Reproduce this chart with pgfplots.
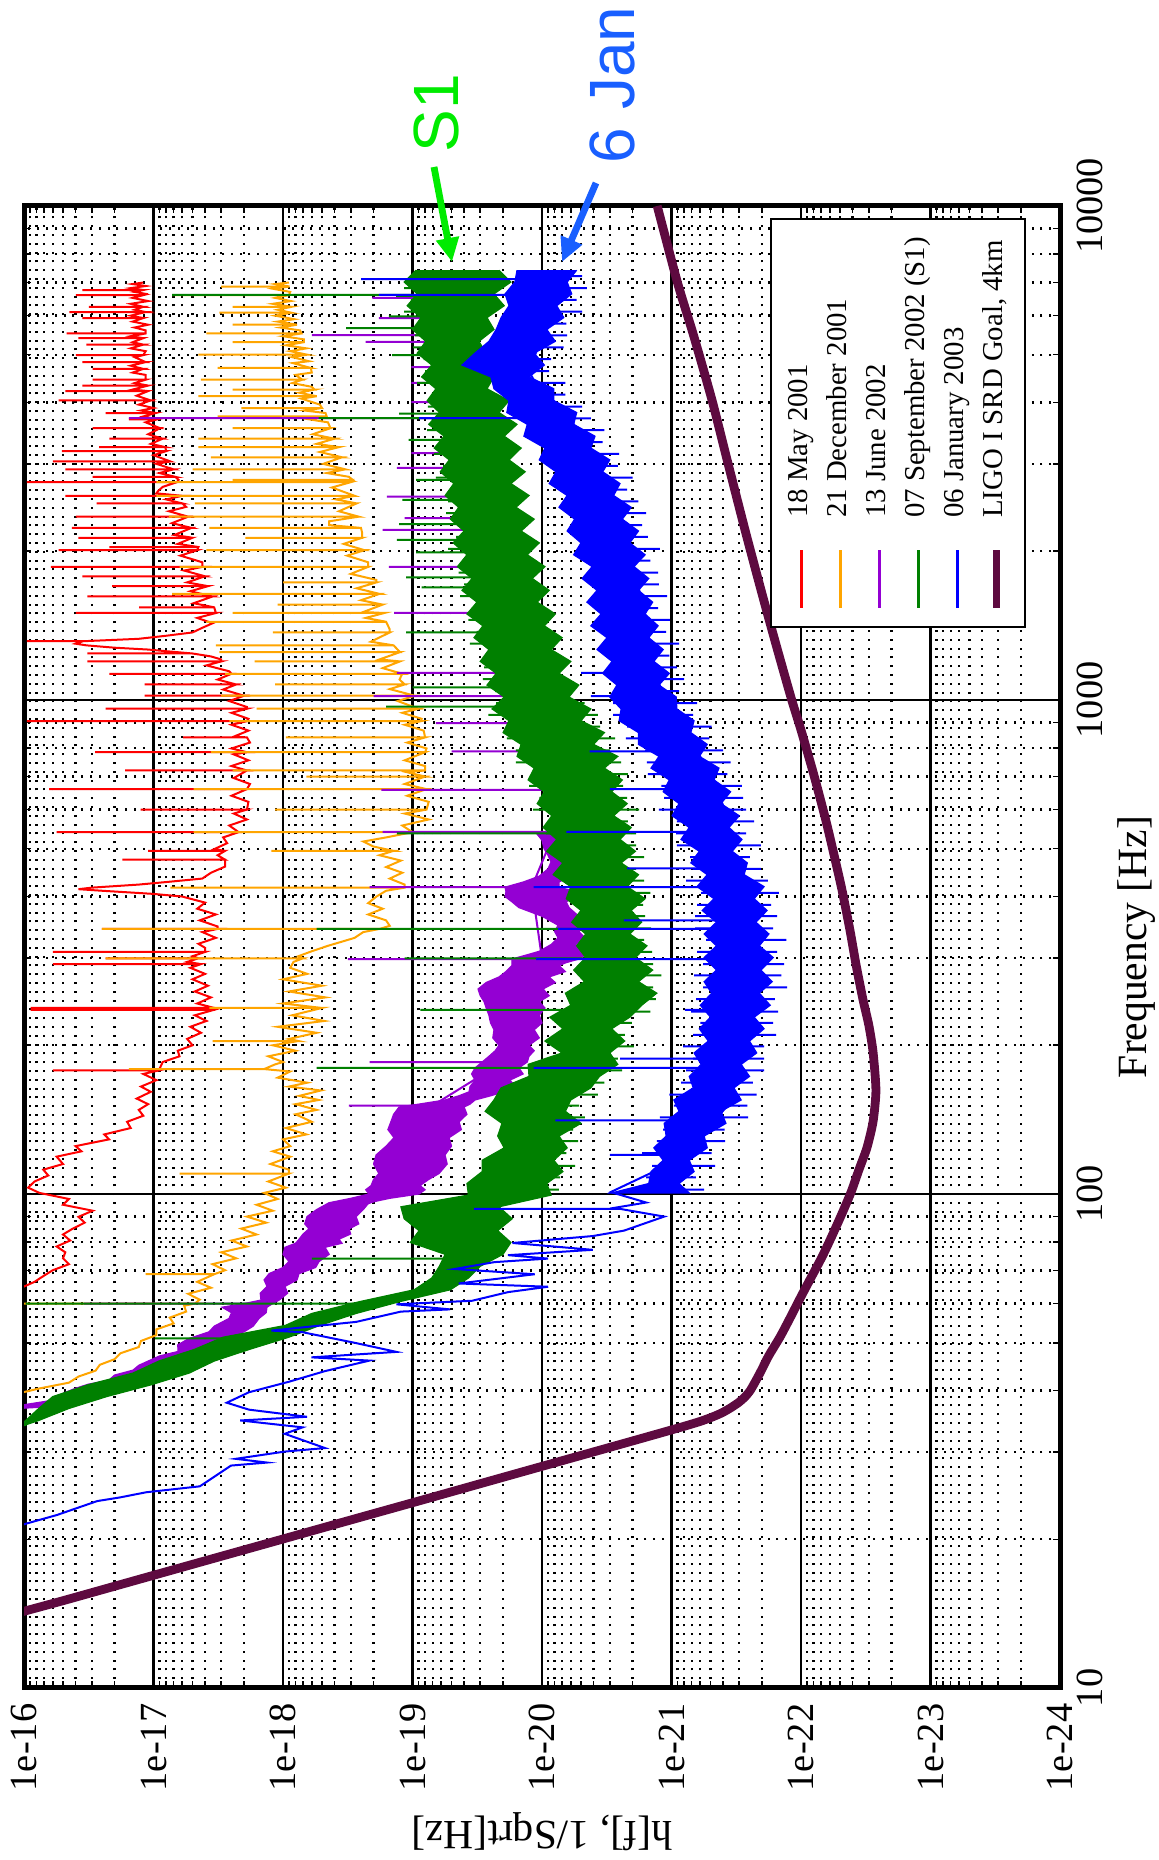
\documentclass[border=0pt]{standalone}
\usepackage{pgfplots}
\pgfplotsset{compat=1.18}
\usepackage{fontspec}
\setmainfont{Liberation Serif}
\newfontfamily\annfont{Liberation Sans}
\usetikzlibrary{arrows.meta}

\definecolor{cRed}{RGB}{255,0,0}
\definecolor{cOrange}{RGB}{255,165,0}
\definecolor{cPurple}{RGB}{148,0,211}
\definecolor{cGreen}{RGB}{0,128,0}
\definecolor{cBlue}{RGB}{0,0,255}
\definecolor{cSRD}{RGB}{94,10,64}
\definecolor{annGreen}{RGB}{0,235,0}
\definecolor{annBlue}{RGB}{25,95,255}

% legend samples: a short rule in the run's colour
\newcommand{\sample}[3][0.6pt]{\textcolor{#2}{\rule[#3]{14.5pt}{#1}}\hspace{8pt}}

\begin{document}
\begin{tikzpicture}
\begin{axis}[
  at={(0pt,0pt)}, anchor=south west,
  scale only axis, width=259pt, height=370.5pt,
  xmode=log, ymode=log, x dir=reverse,
  xmin=1e-24, xmax=1e-16, ymin=10, ymax=10000,
  xtick={1e-24,1e-23,1e-22,1e-21,1e-20,1e-19,1e-18,1e-17,1e-16},
  xticklabels={1e-24,1e-23,1e-22,1e-21,1e-20,1e-19,1e-18,1e-17,1e-16},
  minor xtick={2e-24,3e-24,4e-24,5e-24,6e-24,7e-24,8e-24,9e-24,
    2e-23,3e-23,4e-23,5e-23,6e-23,7e-23,8e-23,9e-23,
    2e-22,3e-22,4e-22,5e-22,6e-22,7e-22,8e-22,9e-22,
    2e-21,3e-21,4e-21,5e-21,6e-21,7e-21,8e-21,9e-21,
    2e-20,3e-20,4e-20,5e-20,6e-20,7e-20,8e-20,9e-20,
    2e-19,3e-19,4e-19,5e-19,6e-19,7e-19,8e-19,9e-19,
    2e-18,3e-18,4e-18,5e-18,6e-18,7e-18,8e-18,9e-18,
    2e-17,3e-17,4e-17,5e-17,6e-17,7e-17,8e-17,9e-17},
  ytick={10,100,1000,10000},
  yticklabels={10,100,1000,10000},
  minor ytick={20,30,40,50,60,70,80,90,200,300,400,500,600,700,800,900,
    2000,3000,4000,5000,6000,7000,8000,9000},
  yticklabel pos=right,
  grid=both,
  major grid style={black, line width=0.55pt},
  minor grid style={black, line width=0.55pt, dash pattern=on 0.5pt off 1.7pt},
  axis line style={black, line width=1.25pt},
  tick align=inside, major tick length=0pt, minor tick length=1.8pt,
  tick style={black, line width=0.4pt},
  xticklabel style={yshift=-3.75pt, rotate=90, anchor=east, inner sep=0pt,
    font=\fontsize{9.6}{11}\selectfont},
  yticklabel style={xshift=4pt, rotate=90, anchor=north, inner sep=0pt,
    font=\fontsize{9.6}{11}\selectfont},
  xlabel={h[f], 1/Sqrt[Hz]},
  ylabel={Frequency [Hz]},
  every axis x label/.style={at={(axis description cs:0.5,0)}, yshift=-36pt,
    anchor=center, rotate=180, font=\fontsize{10.4}{12}\selectfont},
  every axis y label/.style={at={(axis description cs:1,0.5)}, xshift=19.25pt,
    anchor=center, rotate=90, font=\fontsize{10.4}{12}\selectfont},
  legend columns=6,
  legend cell align=left,
  legend image code/.code={},
  legend style={at={(0.8436,0.8536)}, anchor=center,
    draw=black, line width=0.5pt, fill=white,
    font=\fontsize{7.2}{8.6}\selectfont,
    inner xsep=2.6pt, inner ysep=3.3pt,
    nodes={rotate=90, inner sep=1.2pt, text height=5.2pt, text depth=1.8pt},
    /tikz/every even column/.append style={column sep=0.35pt}},
]

% ---------------- 18 May 2001 ----------------
\addplot[cRed, line width=0.5pt] table[x=h, y=f] {
f h
7000 1.2e-17
6950 1.45e-17
6887 1.15e-17
6820 1.5e-17
6760 1.2e-17
6760 3.55e-17
6760 1.2e-17
6699 1.4e-17
6640 1.15e-17
6600 1.2e-17
6600 3.98e-17
6600 1.2e-17
6516 1.45e-17
6420 1.1e-17
6339 1.5e-17
6250 1.2e-17
6250 3.16e-17
6250 1.2e-17
6166 1.4e-17
6100 1.15e-17
6100 4.47e-17
6100 1.15e-17
5998 1.5e-17
5930 1.2e-17
5930 3.55e-17
5930 1.2e-17
5834 1.45e-17
5750 1.1e-17
5675 1.4e-17
5600 1.15e-17
5520 1.15e-17
5520 4.68e-17
5520 1.15e-17
5450 1.5e-17
5400 1.2e-17
5400 3.8e-17
5400 1.2e-17
5300 1.45e-17
5240 1.2e-17
5240 3.3e-17
5240 1.2e-17
5150 1.5e-17
5082 1.15e-17
4990 1.2e-17
4990 3.98e-17
4990 1.2e-17
4943 1.4e-17
4830 1.15e-17
4830 3.55e-17
4830 1.15e-17
4750 1.5e-17
4680 1.2e-17
4680 2.95e-17
4680 1.2e-17
4600 1.45e-17
4550 1.15e-17
4450 1.15e-17
4450 2.95e-17
4450 1.15e-17
4380 1.4e-17
4330 1.1e-17
4330 3.55e-17
4330 1.1e-17
4250 1.45e-17
4220 1.1e-17
4220 4.8e-17
4220 1.1e-17
4130 1.35e-17
4040 1.05e-17
4040 5.4e-17
4040 1.05e-17
3963 1.3e-17
3900 1.0e-17
3855 1.25e-17
3810 9.6e-18
3810 2.34e-17
3810 9.6e-18
3750 1.2e-17
3700 9.3e-18
3700 1.55e-17
3700 9.3e-18
3648 1.15e-17
3550 8.9e-18
3550 2.95e-17
3550 8.9e-18
3451 1.1e-17
3380 8.5e-18
3380 2.19e-17
3380 8.5e-18
3300 1.05e-17
3250 8.1e-18
3250 2.63e-17
3250 8.1e-18
3190 8.0e-18
3190 5.1e-17
3190 8.0e-18
3130 1.0e-17
3040 7.4e-18
3040 6.0e-17
3040 7.4e-18
3006 9.5e-18
2930 7.0e-18
2930 4.8e-17
2930 7.0e-18
2880 9.0e-18
2830 6.8e-18
2830 2.95e-17
2830 6.8e-18
2790 6.4e-18
2760 6.6e-18
2760 9.5e-17
2760 6.6e-18
2700 8.5e-18
2650 9.2e-18
2620 9.5e-18
2590 6.0e-18
2590 4.8e-17
2590 6.0e-18
2547 8.0e-18
2500 6.0e-18
2500 2.75e-17
2500 6.0e-18
2460 5.6e-18
2410 7.6e-18
2350 5.4e-18
2350 3.98e-17
2350 5.4e-18
2280 7.2e-18
2230 5.1e-18
2230 4.27e-17
2230 5.1e-18
2158 6.9e-18
2130 5.0e-18
2130 3.8e-17
2130 5.0e-18
2070 6.5e-18
2040 4.5e-18
2040 2.19e-17
2040 4.5e-18
2010 4.6e-18
2010 5.4e-17
2010 4.6e-18
1960 6.2e-18
1900 4.2e-18
1860 4.2e-18
1860 6.2e-17
1860 4.2e-18
1828 5.8e-18
1780 4.0e-18
1780 3.55e-17
1780 4.0e-18
1730 5.5e-18
1700 3.8e-18
1700 2.09e-17
1700 3.8e-18
1660 5.2e-18
1620 3.5e-18
1620 3.24e-17
1620 3.5e-18
1570 4.9e-18
1540 3.4e-18
1540 1.29e-17
1540 3.4e-18
1500 3.3e-18
1500 3.98e-17
1500 3.3e-18
1466 4.6e-18
1430 3.5e-18
1400 4.2e-18
1370 5.0e-18
1349 8.0e-18
1330 1.3e-17
1315 3.5e-17
1315 9.5e-17
1315 3.5e-17
1300 4.0e-17
1290 3.3e-17
1276 2.0e-17
1265 1.1e-17
1255 7.9e-18
1242 5.0e-18
1242 3.24e-17
1242 5.0e-18
1225 3.6e-18
1208 3.0e-18
1197 3.0e-18
1197 3.24e-17
1197 3.0e-18
1175 3.9e-18
1143 2.6e-18
1130 2.5e-18
1130 2.19e-17
1130 2.5e-18
1100 3.2e-18
1075 2.3e-18
1075 1.17e-17
1075 2.3e-18
1050 2.9e-18
1020 2.0e-18
1020 1.17e-17
1020 2.0e-18
995 2.6e-18
968 1.9e-18
960 1.9e-18
960 2.34e-17
960 1.9e-18
942 2.5e-18
916 1.85e-18
906 1.9e-18
906 9.5e-17
906 1.9e-18
891 2.5e-18
867 1.85e-18
843 2.4e-18
840 1.9e-18
840 5.9e-18
840 1.9e-18
820 1.8e-18
798 2.5e-18
784 1.9e-18
784 2.82e-17
784 1.9e-18
776 2.4e-18
755 1.85e-18
735 2.5e-18
720 1.9e-18
720 1.66e-17
720 1.9e-18
695 2.4e-18
676 1.8e-18
660 1.9e-18
660 6.4e-17
660 1.9e-18
640 2.5e-18
622 1.85e-18
600 1.9e-18
600 1.26e-17
600 1.9e-18
589 2.4e-18
573 1.9e-18
557 2.6e-18
540 2.2e-18
540 5.6e-17
540 2.2e-18
527 2.9e-18
513 2.7e-18
499 3.4e-18
495 2.8e-18
495 1.1e-17
495 2.8e-18
485 3.2e-18
475 2.8e-18
475 1.74e-17
475 2.8e-18
460 2.8e-18
447 3.6e-18
435 4.2e-18
428 8.0e-18
423 1.3e-17
417 3.0e-17
414 3.8e-17
411 2.5e-17
405 1.0e-17
400 6.0e-18
389 4.0e-18
378 4.6e-18
368 3.3e-18
358 4.4e-18
348 3.2e-18
344 3.2e-18
344 2.51e-17
344 3.2e-18
339 4.2e-18
330 3.3e-18
321 4.5e-18
315 4.0e-18
309 4.0e-18
309 6.0e-17
309 4.0e-18
303 5.0e-18
300 4.5e-18
300 2.34e-17
300 4.5e-18
295 5.5e-18
292 4.3e-18
292 6.0e-17
292 4.3e-18
287 5.2e-18
279 4.0e-18
272 5.0e-18
264 3.8e-18
257 4.8e-18
250 3.6e-18
243 4.6e-18
238 3.4e-18
238 8.9e-17
238 3.4e-18
236 3.4e-18
236 8.9e-17
236 3.4e-18
230 4.8e-18
224 3.9e-18
218 5.2e-18
212 4.3e-18
206 5.5e-18
200 5.0e-18
195 6.5e-18
190 6.3e-18
185 8.5e-18
179 9.0e-18
178 9.0e-18
178 6.0e-17
178 9.0e-18
175 1.2e-17
170 9.5e-18
165 1.25e-17
161 1.05e-17
156 1.35e-17
152 1.1e-17
148 1.3e-17
144 1.2e-17
140 1.6e-17
136 1.5e-17
132 2.4e-17
129 2.2e-17
125 4.0e-17
122 3.6e-17
119 5.6e-17
115 5.0e-17
112 7.1e-17
109 6.5e-17
106 8.3e-17
103 9.3e-17
100.5 7.6e-17
97.7 4.5e-17
95.1 5.0e-17
92.5 2.95e-17
89.9 3.8e-17
87.5 3.4e-17
85.1 4.2e-17
82.8 5.0e-17
80.5 4.4e-17
78.3 5.6e-17
76.2 4.8e-17
74.1 5.0e-17
72.1 4.5e-17
70.1 6.0e-17
68.2 7.1e-17
66.4 8.3e-17
64.6 1.05e-16
};
\addlegendentry{\sample{cRed}{1.2pt}18 May 2001}

% ---------------- 21 December 2001 ----------------
\addplot[cOrange, line width=0.5pt] table[x=h, y=f] {
f h
7000 9.0e-19
6950 1.15e-18
6870 8.9e-19
6870 3.0e-18
6870 8.9e-19
6800 1.2e-18
6699 8.8e-19
6600 9.0e-19
6600 7.2e-18
6600 9.0e-19
6516 1.15e-18
6420 8.7e-19
6339 1.2e-18
6250 8.6e-19
6250 2.45e-18
6250 8.6e-19
6166 1.1e-18
6080 8.6e-19
6080 3.1e-18
6080 8.6e-19
5998 1.15e-18
5900 8.2e-19
5834 1.1e-18
5750 7.8e-19
5750 2.45e-18
5750 7.8e-19
5675 1.05e-18
5600 7.4e-19
5520 7.2e-19
5520 3.9e-18
5520 7.2e-19
5450 1.0e-18
5370 6.9e-19
5300 6.9e-19
5300 2.45e-18
5300 6.9e-19
5224 9.5e-19
5150 6.6e-19
5082 8.8e-19
5000 6.5e-19
5000 4.5e-18
5000 6.5e-19
4943 8.5e-19
4850 6.3e-19
4808 8.4e-19
4700 6.1e-19
4700 3.2e-18
4700 6.1e-19
4600 6.0e-19
4550 8.0e-19
4450 7.1e-19
4450 4.3e-18
4450 7.1e-19
4380 8.5e-19
4305 6.0e-19
4250 5.7e-19
4250 2.45e-18
4250 5.7e-19
4188 7.5e-19
4120 5.5e-19
4120 4.5e-18
4120 5.5e-19
4074 7.2e-19
3963 5.2e-19
3900 5.0e-19
3900 2.1e-18
3900 5.0e-19
3855 6.8e-19
3810 4.7e-19
3750 4.6e-19
3750 3.2e-18
3750 4.6e-19
3700 6.3e-19
3648 4.5e-19
3550 4.3e-19
3550 2.45e-18
3550 4.3e-19
3451 5.9e-19
3380 4.0e-19
3380 4.5e-18
3380 4.0e-19
3300 5.5e-19
3250 3.7e-19
3250 4.5e-18
3250 3.7e-19
3177 5.2e-19
3100 3.5e-19
3100 3.6e-18
3100 3.5e-19
3006 4.9e-19
2930 3.3e-19
2930 5.0e-18
2930 3.3e-19
2880 4.6e-19
2830 3.1e-19
2790 2.9e-19
2790 2.45e-18
2790 2.9e-19
2760 3.0e-19
2760 9.5e-18
2760 3.0e-19
2692 4.2e-19
2590 2.8e-19
2590 9.5e-18
2590 2.8e-19
2547 3.9e-19
2500 2.7e-19
2500 4.8e-18
2500 2.7e-19
2410 3.7e-19
2350 2.6e-19
2350 7.6e-18
2350 2.6e-19
2300 4.4e-19
2260 4.4e-19
2230 2.5e-19
2230 3.7e-18
2230 2.5e-19
2180 2.45e-19
2130 2.45e-19
2130 1.95e-18
2130 2.45e-19
2070 3.4e-19
2010 2.35e-19
2010 3.9e-18
2010 2.35e-19
1960 3.2e-19
1900 2.2e-19
1860 2.2e-19
1860 6.3e-18
1860 2.2e-19
1800 3.0e-19
1750 1.9e-19
1730 1.9e-19
1730 1.0e-18
1730 1.9e-19
1683 2.7e-19
1640 1.8e-19
1640 7.2e-18
1640 1.8e-19
1592 2.5e-19
1560 1.7e-19
1560 1.1e-18
1560 1.7e-19
1507 2.4e-19
1500 1.65e-19
1500 2.45e-18
1500 1.65e-19
1466 2.3e-19
1440 1.6e-19
1440 3.9e-18
1440 1.6e-19
1390 1.5e-19
1370 1.5e-19
1370 1.2e-18
1370 1.5e-19
1312 2.1e-19
1290 1.4e-19
1290 3.3e-18
1290 1.4e-19
1250 1.25e-19
1250 3.1e-18
1250 1.25e-19
1208 1.8e-19
1197 1.25e-19
1197 1.66e-18
1197 1.25e-19
1160 1.7e-19
1130 1.2e-19
1130 2.8e-18
1130 1.2e-19
1100 1.26e-19
1075 1.15e-19
1075 1.15e-18
1075 1.15e-19
1052 1.5e-19
1020 9.6e-20
1020 3.0e-18
1020 9.6e-20
995 1.3e-19
960 9.0e-20
960 1.6e-18
960 9.0e-20
942 1.2e-19
916 8.5e-20
906 8.6e-20
906 2.6e-18
906 8.6e-20
891 1.15e-19
867 8.2e-20
840 8.0e-20
840 9.5e-19
840 8.0e-20
820 1.1e-19
798 7.8e-20
784 8.0e-20
784 3.6e-18
784 8.0e-20
755 1.15e-19
735 8.0e-20
720 8.0e-20
720 2.45e-18
720 8.0e-20
714 1.1e-19
700 8.0e-20
700 6.6e-19
700 8.0e-20
676 1.15e-19
660 7.8e-20
660 4.9e-18
660 7.8e-20
640 1.1e-19
622 7.5e-20
600 7.8e-20
600 1.15e-18
600 7.8e-20
589 1.15e-19
573 7.5e-20
557 1.2e-19
540 1.0e-19
540 4.9e-18
540 1.0e-19
527 1.6e-19
517 2.4e-19
505 2.0e-19
495 1.4e-19
495 1.23e-18
495 1.4e-19
485 1.8e-19
473 1.23e-19
459 1.6e-19
447 1.2e-19
435 1.5e-19
423 1.15e-19
417 1.15e-19
417 7.4e-18
417 1.15e-19
411 1.6e-19
400 1.9e-19
388 2.2e-19
378 1.7e-19
368 2.2e-19
358 1.6e-19
349 1.5e-19
344 1.8e-19
344 2.51e-17
344 1.8e-19
339 2.4e-19
330 2.8e-19
325 3.4e-19
318 4.5e-19
310 6.0e-19
303 7.6e-19
300 7.0e-19
300 2.34e-17
300 7.0e-19
295 8.3e-19
287 8.8e-19
279 6.5e-19
272 1.0e-18
264 5.0e-19
257 9.0e-19
250 4.7e-19
243 1.0e-18
238 5.0e-19
238 3.7e-18
238 5.0e-19
230 8.5e-19
224 4.8e-19
218 1.1e-18
212 5.5e-19
206 9.0e-19
204 7.6e-19
204 3.5e-18
204 7.6e-19
200 1.2e-18
195 8.0e-19
190 1.3e-18
185 1.0e-18
183 1.15e-18
179 1.4e-18
179 1.55e-17
179 1.4e-18
177 8.8e-19
172 1.1e-18
168 6.5e-19
165 9.0e-19
162 5.1e-19
158 7.5e-19
155 5.3e-19
152 8.0e-19
148 5.5e-19
145 8.0e-19
140 6.0e-19
136 9.5e-19
132 6.6e-19
129 1.0e-18
125 8.8e-19
122 1.2e-18
119 8.8e-19
115 1.25e-18
112 9.0e-19
110 9.0e-19
110 6.3e-18
110 9.0e-19
106 1.3e-18
103 9.5e-19
100.5 1.4e-18
97.7 1.1e-18
95.1 1.6e-18
92.5 1.2e-18
90 1.9e-18
87.5 1.35e-18
85.1 2.1e-18
82.8 1.6e-18
80.5 2.5e-18
78.3 1.9e-18
76.2 3.0e-18
74.1 2.3e-18
72.1 3.5e-18
70.1 2.8e-18
68.8 3.4e-18
68.8 1.15e-17
68.8 3.4e-18
66.4 4.6e-18
64.6 3.6e-18
62.8 5.4e-18
61.1 4.4e-18
60.0 4.8e-18
60.0 1.05e-16
60.0 4.8e-18
59.4 5.8e-18
57.8 5.6e-18
56.2 7.5e-18
54.7 7.0e-18
53.2 9.5e-18
51.8 9.5e-18
50.4 1.25e-17
49.0 1.3e-17
47.6 1.8e-17
46.3 2.0e-17
45.1 2.6e-17
43.9 2.8e-17
42.7 3.8e-17
41.5 4.5e-17
40.4 7.6e-17
39.5 1.1e-16
};
\addlegendentry{\sample{cOrange}{1.2pt}21 December 2001}

% ---------------- 13 June 2002: noise band ----------------
\addplot[cPurple, fill=cPurple, line width=0.3pt, forget plot] table[x=h, y=f] {
f h
541 5.66e-21
520 5.0e-21
500 5.66e-21
485 6.2e-21
470 5.66e-21
455 5.2e-21
440 5.97e-21
428 7.4e-21
418 7.39e-21
409 5.5e-21
400 5.66e-21
390 6.5e-21
380 6.19e-21
365 5.2e-21
350 4.66e-21
340 5.2e-21
330 4.66e-21
320 5.5e-21
310 5.0e-21
305 4.6e-21
299 5.18e-21
294 6.5e-21
290 7.39e-21
282 6.6e-21
275 8.83e-21
268 7.9e-21
260 9.82e-21
252 8.8e-21
245 1.05e-20
238 9.5e-21
230 1.05e-20
222 1.0e-20
215 1.15e-20
207 1.05e-20
200 1.26e-20
195 1.15e-20
190 1.26e-20
185 1.3e-20
180 1.51e-20
175 1.4e-20
170 1.77e-20
165 1.6e-20
161 1.96e-20
158 2.5e-20
155 3.29e-20
152 3.6e-20
150 4.0e-20
145 3.8e-20
140 4.37e-20
135 4.2e-20
130 5.22e-20
125 5.0e-20
120 5.61e-20
115 5.4e-20
110 6.24e-20
107 7.5e-20
104 8.74e-20
102 8.0e-20
100 8.9e-20
98 1.5e-19
96 2.17e-19
93 2.4e-19
90 2.73e-19
87 2.6e-19
85 3.09e-19
83 3.0e-19
81 3.7e-19
79.5 3.5e-19
78 4.74e-19
75.5 4.4e-19
73 5.27e-19
71 5.6e-19
69 7.52e-19
67 7.8e-19
65 9.66e-19
63 9.2e-19
61 1.07e-18
60 1.2e-18
59 1.33e-18
57.5 1.35e-18
56 1.53e-18
54 1.7e-18
52.6 2.0e-18
51.8 2.4e-18
51 2.96e-18
49.5 3.0e-18
48 3.73e-18
47 4.6e-18
46 6.35e-18
45 6.5e-18
44 7.59e-18
43 8.5e-18
42 1.08e-17
41.2 1.3e-17
40.4 1.98e-17
39.5 2.2e-17
38.5 2.64e-17
38 3.5e-17
37.5 4.74e-17
37 7.66e-17
36.8 1.1e-16
36.8 1.3e-16
37.5 9.7e-17
38 7.0e-17
38.5 5.37e-17
39.5 5.0e-17
40.4 4.04e-17
41.2 3.2e-17
42 2.21e-17
43 2.0e-17
44 1.44e-17
45 1.3e-17
46 1.08e-17
47 9.0e-18
48 6.47e-18
49.5 6.5e-18
51 5.32e-18
52.6 3.73e-18
54 3.4e-18
56 2.61e-18
57.5 2.5e-18
59 2.96e-18
60 2.0e-18
61 1.48e-18
63 1.5e-18
65 1.33e-18
67 1.4e-18
69 1.28e-18
71 1.0e-18
73 9.0e-19
75.5 1.0e-18
78 9.66e-19
79.5 8.0e-19
81 7.52e-19
83 7.0e-19
85 6.3e-19
87 6.8e-19
90 6.53e-19
93 5.5e-19
96 4.42e-19
98 3.0e-19
100 2.17e-19
102 2.3e-19
104 2.09e-19
107 2.0e-19
110 1.82e-19
115 2.0e-19
120 1.91e-19
125 1.6e-19
130 1.39e-19
135 1.55e-19
140 1.47e-19
145 1.4e-19
150 1.27e-19
152 9.0e-20
155 5.61e-20
158 4.4e-20
161 3.66e-20
165 3.6e-20
170 3.29e-20
175 3.5e-20
180 3.29e-20
185 2.9e-20
190 2.57e-20
195 2.3e-20
200 2.15e-20
207 2.4e-20
215 2.35e-20
222 2.5e-20
230 2.57e-20
238 2.7e-20
245 2.8e-20
252 3.0e-20
260 3.12e-20
268 2.7e-20
275 2.15e-20
282 1.9e-20
290 1.71e-20
294 1.71e-20
299 1.71e-20
305 1.3e-20
310 1.05e-20
320 8.5e-21
330 7.52e-21
340 8.0e-21
350 7.52e-21
365 1.0e-20
380 1.51e-20
390 1.7e-20
400 1.93e-20
409 1.9e-20
418 1.93e-20
428 1.4e-20
440 1.05e-20
455 9.0e-21
470 8.52e-21
485 9.0e-21
500 9.65e-21
520 1.0e-20
541 1.13e-20
};
% line features of the same run
\addplot[cPurple, line width=0.5pt] table[x=h, y=f] {
f h
7413 5.7e-20
6516 5.8e-20
6516 2.04e-19
6516 5.8e-20
5930 5.9e-20
5930 1.82e-19
5930 5.9e-20
5480 5.5e-20
5480 6.0e-19
5480 5.5e-20
5310 5.4e-20
5310 2.3e-19
5310 5.4e-20
4720 5.0e-20
4720 1.02e-19
4720 5.0e-20
4385 4.8e-20
4385 1.02e-19
4385 4.8e-20
4010 4.5e-20
4010 1.02e-19
4010 4.5e-20
3720 4.3e-20
3720 1.55e-17
3720 4.3e-20
3160 3.8e-20
3160 1.02e-19
3160 3.8e-20
2950 3.6e-20
2950 1.32e-19
2950 3.6e-20
2580 3.3e-20
2580 1.58e-19
2580 3.3e-20
2335 3.0e-20
2335 1.15e-19
2335 3.0e-20
2210 2.9e-20
2210 1.7e-19
2210 2.9e-20
1860 2.6e-20
1860 1.52e-19
1860 2.6e-20
1500 2.2e-20
1500 1.39e-19
1500 2.2e-20
1135 1.6e-20
1135 1.32e-19
1135 1.6e-20
1018 1.4e-20
1018 2.0e-19
1018 1.4e-20
898 1.2e-20
898 6.6e-20
898 1.2e-20
787 1.0e-20
787 5.0e-20
787 1.0e-20
658 9.0e-21
658 1.74e-19
658 9.0e-21
541 8.0e-21
541 1.7e-19
541 8.0e-21
418 1.2e-20
418 2.14e-19
418 1.2e-20
299 1.0e-20
299 3.16e-19
299 1.0e-20
185 2.0e-20
185 2.14e-19
185 2.0e-20
151 7.0e-20
151 3.1e-19
151 7.0e-20
120 1.0e-19
100 1.4e-19
90 4.2e-19
78 6.8e-19
65 1.1e-18
60 1.5e-18
60 3.44e-17
60 1.5e-18
52.6 2.7e-18
46 8.3e-18
42 1.5e-17
38.5 3.8e-17
36.8 1.2e-16
};
\addlegendentry{\sample{cPurple}{1.2pt}13 June 2002}

% ---------------- 07 September 2002 (S1): noise band ----------------
\addplot[cGreen, fill=cGreen, line width=0.3pt, forget plot] table[x=h, y=f] {
f h
7413 2.15e-20
7015 1.74e-20
6637 2.35e-20
6281 1.96e-20
5943 2.66e-20
5623 2.35e-20
5321 3.07e-20
5035 2.71e-20
4764 3.54e-20
4508 2.35e-20
4266 2.66e-20
4036 1.8e-20
3819 2.15e-20
3614 1.56e-20
3420 1.96e-20
3236 1.45e-20
3062 1.8e-20
2897 1.35e-20
2742 1.74e-20
2594 1.26e-20
2455 1.59e-20
2323 1.15e-20
2198 1.45e-20
2080 1.05e-20
1968 1.3e-20
1862 9.5e-21
1762 1.19e-20
1667 8.8e-21
1578 1.09e-20
1493 7.9e-21
1413 9.6e-21
1337 7.0e-21
1265 8.5e-21
1197 6.0e-21
1132 7.4e-21
1072 5.2e-21
1014 6.2e-21
959 4.2e-21
908 5.0e-21
859 3.3e-21
813 4.0e-21
769 2.6e-21
728 3.3e-21
689 2.4e-21
652 2.9e-21
617 2.2e-21
583 2.8e-21
552 2.05e-21
522 2.5e-21
494 1.9e-21
468 2.45e-21
443 1.8e-21
419 2.2e-21
396 1.6e-21
375 2.05e-21
355 1.7e-21
336 2.1e-21
318 1.55e-21
301 1.9e-21
284 1.4e-21
269 1.8e-21
255 1.3e-21
241 1.7e-21
228 2.1e-21
216 2.9e-21
204 2.3e-21
193 3.0e-21
183 2.6e-21
173 3.6e-21
164 4.2e-21
155 6.0e-21
147 6.6e-21
139 5.0e-21
131 7.4e-21
124 6.4e-21
117 8.1e-21
111 6.9e-21
105 9.2e-21
99.5 8.5e-21
94.2 2.15e-20
89.1 1.7e-20
84.3 2.2e-20
79.8 1.74e-20
75.5 2.0e-20
71.4 3.0e-20
67.6 3.7e-20
64.0 5.1e-20
60.5 1.27e-19
57.3 2.73e-19
54.2 5.2e-19
51.3 9.0e-19
48.5 1.8e-18
45.9 3.4e-18
43.4 5.3e-18
41.1 1.04e-17
38.9 2.3e-17
36.8 4.5e-17
34.8 7.7e-17
34.0 1.0e-16
34.0 1.1e-16
34.8 9.7e-17
36.8 7.7e-17
38.9 6.0e-17
41.1 3.2e-17
43.4 1.44e-17
45.9 9.1e-18
48.5 4.8e-18
51.3 2.9e-18
54.2 9.6e-19
57.3 6.0e-19
60.5 2.6e-19
64.0 9.7e-20
67.6 7.1e-20
71.4 6.2e-20
75.5 5.6e-20
79.8 1.04e-19
84.3 8.9e-20
89.1 1.16e-19
94.2 1.23e-19
99.5 3.7e-20
105 3.8e-20
111 2.9e-20
117 2.9e-20
124 1.96e-20
131 2.2e-20
139 2.04e-20
147 2.75e-20
155 2.35e-20
164 2.07e-20
173 1.26e-20
183 1.28e-20
193 7.0e-21
204 9.5e-21
216 6.9e-21
228 8.7e-21
241 6.0e-21
255 6.6e-21
269 4.7e-21
284 5.7e-21
301 4.6e-21
318 5.4e-21
336 4.6e-21
355 5.9e-21
375 5.0e-21
396 6.5e-21
419 6.0e-21
443 8.2e-21
468 6.9e-21
494 9.2e-21
522 7.7e-21
552 9.8e-21
583 8.4e-21
617 1.09e-20
652 9.6e-21
689 1.28e-20
728 1.15e-20
769 1.56e-20
813 1.45e-20
859 2.0e-20
908 1.8e-20
959 2.43e-20
1014 1.96e-20
1072 2.66e-20
1132 2.26e-20
1197 3.0e-20
1265 2.57e-20
1337 3.35e-20
1413 2.86e-20
1493 3.8e-20
1578 3.18e-20
1667 4.15e-20
1762 3.47e-20
1862 4.5e-20
1968 3.8e-20
2080 4.86e-20
2198 4.0e-20
2323 5.1e-20
2455 4.4e-20
2594 5.6e-20
2742 4.8e-20
2897 6.1e-20
3062 5.2e-20
3236 6.8e-20
3420 5.7e-20
3614 7.5e-20
3819 6.2e-20
4036 7.7e-20
4266 6.6e-20
4508 8.5e-20
4764 7.1e-20
5035 9.2e-20
5321 7.9e-20
5623 1.0e-19
5943 8.6e-20
6281 1.1e-19
6637 9.2e-20
7015 1.16e-19
7413 9.4e-20
};
% short excursions on the high-h side of the band
\addplot[cGreen, line width=0.5pt, forget plot] table[x=h, y=f] {
f h
7211 7.6e-20
7211 1.01e-19
7211 7.6e-20
6823 7.6e-20
6823 1.16e-19
6823 7.6e-20
6457 7.3e-20
6457 1.03e-19
6457 7.3e-20
6109 7.1e-20
6109 1.16e-19
6109 7.1e-20
5781 6.8e-20
5781 9.2e-20
5781 6.8e-20
5470 6.5e-20
5470 9.6e-20
5470 6.5e-20
5176 6.2e-20
5176 9.9e-20
5176 6.2e-20
4898 5.9e-20
4898 8.2e-20
4898 5.9e-20
4634 5.6e-20
4634 8.0e-20
4634 5.6e-20
4385 5.4e-20
4385 9.2e-20
4385 5.4e-20
4150 5.2e-20
4150 7.1e-20
4150 5.2e-20
3926 5.0e-20
3926 7.6e-20
3926 5.0e-20
3715 4.95e-20
3715 7.2e-20
3715 4.95e-20
3516 4.8e-20
3516 7.7e-20
3516 4.8e-20
3327 4.5e-20
3327 6.0e-20
3327 4.5e-20
3148 4.4e-20
3148 6.8e-20
3148 4.4e-20
2979 4.15e-20
2979 5.8e-20
2979 4.15e-20
2818 3.9e-20
2818 6.6e-20
2818 3.9e-20
2667 3.8e-20
2667 5.1e-20
2667 3.8e-20
2523 3.6e-20
2523 5.3e-20
2523 3.6e-20
2388 3.5e-20
2388 5.5e-20
2388 3.5e-20
2259 3.3e-20
2259 4.5e-20
2259 3.3e-20
2138 3.2e-20
2138 4.6e-20
2138 3.2e-20
2023 3.1e-20
2023 5.3e-20
2023 3.1e-20
1914 3.0e-20
1914 4.1e-20
1914 3.0e-20
1811 2.9e-20
1811 4.4e-20
1811 2.9e-20
1714 2.75e-20
1714 4.0e-20
1714 2.75e-20
1622 2.66e-20
1622 4.3e-20
1622 2.66e-20
1535 2.5e-20
1535 3.35e-20
1535 2.5e-20
1452 2.4e-20
1452 3.7e-20
1452 2.4e-20
1374 2.26e-20
1374 3.2e-20
1374 2.26e-20
1300 2.15e-20
1300 3.6e-20
1300 2.15e-20
1230 2.04e-20
1230 2.75e-20
1230 2.04e-20
1164 1.9e-20
1164 2.8e-20
1164 1.9e-20
1102 1.8e-20
1102 2.86e-20
1102 1.8e-20
1042 1.67e-20
1042 2.3e-20
1042 1.67e-20
986 1.59e-20
986 2.26e-20
986 1.59e-20
933 1.53e-20
933 2.6e-20
933 1.53e-20
883 1.38e-20
883 1.87e-20
883 1.38e-20
836 1.24e-20
836 1.87e-20
836 1.24e-20
791 1.09e-20
791 1.59e-20
791 1.09e-20
748 9.8e-21
748 1.59e-20
748 9.8e-21
708 8.8e-21
708 1.17e-20
708 8.8e-21
670 8.1e-21
670 1.26e-20
670 8.1e-21
634 7.5e-21
634 1.05e-20
634 7.5e-21
600 7.0e-21
600 1.17e-20
600 7.0e-21
568 6.6e-21
568 9.0e-21
568 6.6e-21
537 6.3e-21
537 9.3e-21
537 6.3e-21
};
% short excursions on the low-h side of the band
\addplot[cGreen, line width=0.5pt, forget plot] table[x=h, y=f] {
f h
986 6.3e-21
986 4.7e-21
986 6.3e-21
933 5.66e-21
933 3.7e-21
933 5.66e-21
883 5.0e-21
883 3.56e-21
883 5.0e-21
836 4.5e-21
836 2.73e-21
836 4.5e-21
791 4.0e-21
791 3.0e-21
791 4.0e-21
748 3.6e-21
748 2.45e-21
748 3.6e-21
708 3.4e-21
708 2.17e-21
708 3.4e-21
670 3.3e-21
670 2.37e-21
670 3.3e-21
634 3.15e-21
634 2.2e-21
634 3.15e-21
600 3.04e-21
600 1.78e-21
600 3.04e-21
568 2.9e-21
568 2.17e-21
568 2.9e-21
537 2.83e-21
537 1.88e-21
537 2.83e-21
508 2.73e-21
508 1.88e-21
508 2.73e-21
481 2.64e-21
481 1.63e-21
481 2.64e-21
455 2.54e-21
455 1.88e-21
455 2.54e-21
431 2.45e-21
431 1.63e-21
431 2.45e-21
407 2.33e-21
407 1.46e-21
407 2.33e-21
385 2.25e-21
385 1.66e-21
385 2.25e-21
365 2.29e-21
365 1.6e-21
365 2.29e-21
345 2.33e-21
345 1.44e-21
345 2.33e-21
327 2.2e-21
327 1.63e-21
327 2.2e-21
309 2.13e-21
309 1.41e-21
309 2.13e-21
292 2.02e-21
292 1.39e-21
292 2.02e-21
277 1.95e-21
277 1.2e-21
277 1.95e-21
262 1.88e-21
262 1.39e-21
262 1.88e-21
248 1.95e-21
248 1.32e-21
248 1.95e-21
234 2.33e-21
234 1.46e-21
234 2.33e-21
222 2.9e-21
222 2.02e-21
222 2.9e-21
210 3.2e-21
210 2.29e-21
210 3.2e-21
199 3.3e-21
199 1.95e-21
199 3.3e-21
188 3.5e-21
188 2.6e-21
188 3.5e-21
178 3.76e-21
178 2.41e-21
178 3.76e-21
168 4.66e-21
168 3.3e-21
168 4.66e-21
159 6.1e-21
159 3.7e-21
159 6.1e-21
151 7.26e-21
151 5.18e-21
151 7.26e-21
143 7.4e-21
143 4.66e-21
143 7.4e-21
135 7.66e-21
135 5.76e-21
135 7.66e-21
128 8.37e-21
128 5.27e-21
128 8.37e-21
121 8.67e-21
121 6.5e-21
121 8.67e-21
114 9.15e-21
114 5.56e-21
114 9.15e-21
108 9.8e-21
108 7.26e-21
108 9.8e-21
102 1.05e-20
102 7.4e-21
102 1.05e-20
};
% line features of the same run
\addplot[cGreen, line width=0.5pt] table[x=h, y=f] {
f h
7413 4.4e-20
7080 4.5e-20
6607 4.6e-20
6607 7.2e-18
6607 4.6e-20
6580 4.6e-20
6580 1.34e-19
6580 4.6e-20
5980 4.7e-20
5980 1.52e-19
5980 4.7e-20
5660 4.8e-20
5660 3.26e-19
5660 4.8e-20
4990 4.8e-20
4990 1.44e-19
4990 4.8e-20
3800 3.9e-20
3800 1.27e-19
3800 3.9e-20
3720 3.8e-20
3720 5.3e-19
3720 3.8e-20
3360 3.4e-20
3360 1.07e-19
3360 3.4e-20
2790 2.7e-20
2790 9.4e-20
2790 2.7e-20
2540 2.5e-20
2540 1.2e-19
2540 2.5e-20
2270 2.3e-20
2270 1.27e-19
2270 2.3e-20
2110 2.2e-20
2110 1.32e-19
2110 2.2e-20
1990 2.1e-20
1990 9.4e-20
1990 2.1e-20
1770 1.9e-20
1770 1.12e-19
1770 1.9e-20
1690 1.8e-20
1690 8.5e-20
1690 1.8e-20
1370 1.5e-20
1370 1.12e-19
1370 1.5e-20
1060 1.0e-20
1060 1.0e-19
1060 1.0e-20
970 9.0e-21
970 1.6e-19
970 9.0e-21
537 4.2e-21
537 1.32e-19
537 4.2e-21
344 3.0e-21
344 5.5e-19
344 3.0e-21
300 2.8e-21
300 1.15e-19
300 2.8e-21
236 3.5e-21
236 8.7e-20
236 3.5e-21
180 4.8e-21
180 5.5e-19
180 4.8e-21
150 1.0e-20
100 1.8e-20
90 4.0e-20
80 3.8e-20
74 3.6e-20
74 6.0e-19
74 3.6e-20
64 7.5e-20
60 1.6e-19
60 9.7e-17
60 1.8e-19
54 7.5e-19
51 1.67e-18
51 9.7e-18
51 1.8e-18
46 5.3e-18
42 1.55e-17
39 3.8e-17
36 7.0e-17
34 1.0e-16
};
\addlegendentry{\sample{cGreen}{1.2pt}07 September 2002 (S1)}

% ---------------- 06 January 2003: noise band ----------------
\addplot[cBlue, fill=cBlue, line width=0.3pt, forget plot] table[x=h, y=f] {
f h
7413 5.4e-21
7015 6.4e-21
6637 5.9e-21
6281 7.7e-21
5943 6.8e-21
5623 9.2e-21
5321 7.9e-21
5035 1.15e-20
4764 9.6e-21
4508 1.26e-20
4266 8.1e-21
4036 8.1e-21
3819 5.4e-21
3614 5.7e-21
3420 3.9e-21
3236 4.2e-21
3062 3.0e-21
2897 3.4e-21
2742 2.5e-21
2594 2.8e-21
2455 2.05e-21
2323 2.4e-21
2198 1.8e-21
2080 2.1e-21
1968 1.6e-21
1862 1.95e-21
1762 1.5e-21
1667 1.8e-21
1578 1.4e-21
1493 1.6e-21
1413 1.27e-21
1337 1.5e-21
1265 1.16e-21
1197 1.37e-21
1132 1.04e-21
1072 1.25e-21
1014 9.2e-22
959 9.1e-22
908 6.7e-22
859 7.1e-22
813 5.3e-22
769 6.1e-22
728 4.3e-22
689 4.7e-22
652 3.5e-22
617 4.15e-22
583 3.0e-22
552 3.6e-22
522 2.86e-22
494 3.4e-22
468 2.6e-22
443 2.75e-22
419 1.93e-22
396 2.3e-22
375 1.83e-22
355 2.23e-22
336 1.77e-22
318 2.1e-22
301 1.64e-22
284 2.04e-22
269 1.67e-22
255 2.1e-22
241 1.73e-22
228 2.3e-22
216 1.93e-22
204 2.5e-22
193 2.2e-22
183 2.9e-22
173 2.5e-22
164 3.3e-22
155 2.9e-22
147 4.15e-22
139 3.8e-22
131 5.6e-22
124 5.3e-22
117 7.3e-22
111 6.7e-22
105 8.75e-22
100.5 7.3e-22
100.5 2.9e-21
105 1.5e-21
111 1.44e-21
117 1.16e-21
124 1.37e-21
131 1.1e-21
139 1.14e-21
147 8.75e-22
155 9.6e-22
164 6.8e-22
173 7.3e-22
183 5.9e-22
193 6.7e-22
204 5.2e-22
216 6.1e-22
228 5.0e-22
241 6.0e-22
255 4.9e-22
269 5.6e-22
284 4.5e-22
301 5.6e-22
318 4.5e-22
336 5.6e-22
355 4.5e-22
375 5.8e-22
396 4.7e-22
419 6.35e-22
443 5.3e-22
468 7.1e-22
494 6.1e-22
522 8.45e-22
552 7.3e-22
583 9.9e-22
617 8.75e-22
652 1.16e-21
689 1.04e-21
728 1.44e-21
769 1.25e-21
813 1.8e-21
859 1.8e-21
908 2.54e-21
959 2.45e-21
1014 3.0e-21
1072 2.64e-21
1132 3.4e-21
1197 2.88e-21
1265 3.76e-21
1337 3.15e-21
1413 4.2e-21
1493 3.5e-21
1578 4.5e-21
1667 3.76e-21
1762 4.9e-21
1862 4.1e-21
1968 5.7e-21
2080 5.0e-21
2198 6.4e-21
2323 5.6e-21
2455 7.4e-21
2594 6.4e-21
2742 8.8e-21
2897 7.8e-21
3062 1.05e-20
3236 9.5e-21
3420 1.38e-20
3614 1.3e-20
3819 1.87e-20
4036 1.8e-20
4266 2.35e-20
4508 2.48e-20
4764 4.15e-20
5035 3.3e-20
5321 2.57e-20
5623 2.26e-20
5943 2.07e-20
6281 1.8e-20
6637 1.93e-20
7015 1.62e-20
7413 1.56e-20
};
% short excursions on the low-h side of the band
\addplot[cBlue, line width=0.5pt, forget plot] table[x=h, y=f] {
f h
7211 6.5e-21
7211 4.9e-21
7211 6.5e-21
6823 6.9e-21
6823 4.5e-21
6823 6.9e-21
6457 7.5e-21
6457 5.4e-21
6457 7.5e-21
6109 8.1e-21
6109 4.9e-21
6109 8.1e-21
5781 8.8e-21
5781 6.5e-21
5781 8.8e-21
5470 9.5e-21
5470 6.4e-21
5470 9.5e-21
5176 1.07e-20
5176 6.8e-21
5176 1.07e-20
4898 1.17e-20
4898 8.5e-21
4898 1.17e-20
4634 1.26e-20
4634 8.8e-21
4634 1.26e-20
4385 1.13e-20
4385 6.6e-21
4385 1.13e-20
4150 9.0e-21
4150 6.6e-21
4150 9.0e-21
3926 7.4e-21
3926 4.9e-21
3926 7.4e-21
3715 6.1e-21
3715 4.2e-21
3715 6.1e-21
3516 5.3e-21
3516 3.3e-21
3516 5.3e-21
3327 4.5e-21
3327 3.4e-21
3327 4.5e-21
3148 4.0e-21
3148 2.54e-21
3148 4.0e-21
2979 3.6e-21
2979 2.6e-21
2979 3.6e-21
2818 3.3e-21
2818 2.0e-21
2818 3.3e-21
2667 3.0e-21
2667 2.2e-21
2667 3.0e-21
2523 2.7e-21
2523 1.8e-21
2523 2.7e-21
2388 2.5e-21
2388 1.57e-21
2388 2.5e-21
2259 2.33e-21
2259 1.69e-21
2259 2.33e-21
2138 2.17e-21
2138 1.52e-21
2138 2.17e-21
2023 2.1e-21
2023 1.23e-21
2023 2.1e-21
1914 2.0e-21
1914 1.46e-21
1914 2.0e-21
1811 1.9e-21
1811 1.27e-21
1811 1.9e-21
1714 1.8e-21
1714 1.25e-21
1714 1.8e-21
1622 1.75e-21
1622 1.08e-21
1622 1.75e-21
1535 1.69e-21
1535 1.27e-21
1535 1.69e-21
1452 1.6e-21
1452 1.03e-21
1452 1.6e-21
1374 1.55e-21
1374 1.1e-21
1374 1.55e-21
1300 1.46e-21
1300 8.75e-22
1300 1.46e-21
1230 1.41e-21
1230 1.04e-21
1230 1.41e-21
1164 1.34e-21
1164 9.1e-22
1164 1.34e-21
1102 1.27e-21
1102 8.0e-22
1102 1.27e-21
1042 1.2e-21
1042 8.75e-22
1042 1.2e-21
986 1.08e-21
986 6.35e-22
986 1.08e-21
933 9.2e-22
933 6.8e-22
933 9.2e-22
883 7.9e-22
883 4.9e-22
883 7.9e-22
836 6.9e-22
836 5.1e-22
836 6.9e-22
791 6.35e-22
791 4.0e-22
791 6.35e-22
748 5.7e-22
748 3.5e-22
748 5.7e-22
708 4.95e-22
708 3.7e-22
708 4.95e-22
670 4.45e-22
670 2.86e-22
670 4.45e-22
634 4.2e-22
634 2.8e-22
634 4.2e-22
600 3.9e-22
600 2.66e-22
600 3.9e-22
568 3.66e-22
568 2.3e-22
568 3.66e-22
537 3.6e-22
537 2.66e-22
537 3.6e-22
508 3.5e-22
508 2.04e-22
508 3.5e-22
481 3.35e-22
481 2.48e-22
481 3.35e-22
455 3.07e-22
455 2.04e-22
455 3.07e-22
431 2.6e-22
431 1.8e-22
431 2.6e-22
407 2.4e-22
407 1.48e-22
407 2.4e-22
385 2.3e-22
385 1.7e-22
385 2.3e-22
365 2.26e-22
365 1.53e-22
365 2.26e-22
345 2.23e-22
345 1.64e-22
345 2.23e-22
327 2.15e-22
327 1.3e-22
327 2.15e-22
309 2.07e-22
309 1.53e-22
309 2.07e-22
292 2.04e-22
292 1.35e-22
292 2.04e-22
277 2.07e-22
277 1.42e-22
277 2.07e-22
262 2.1e-22
262 1.28e-22
262 2.1e-22
248 2.15e-22
248 1.59e-22
248 2.15e-22
234 2.26e-22
234 1.5e-22
234 2.26e-22
222 2.4e-22
222 1.64e-22
222 2.4e-22
210 2.5e-22
210 1.56e-22
210 2.5e-22
199 2.66e-22
199 1.93e-22
199 2.66e-22
188 2.86e-22
188 1.93e-22
188 2.86e-22
178 3.07e-22
178 1.93e-22
178 3.07e-22
168 3.3e-22
168 2.35e-22
168 3.3e-22
159 3.5e-22
159 2.2e-22
159 3.5e-22
151 3.7e-22
151 2.6e-22
151 3.7e-22
143 4.4e-22
143 2.56e-22
143 4.4e-22
135 5.3e-22
135 3.9e-22
135 5.3e-22
128 6.35e-22
128 3.86e-22
128 6.35e-22
121 6.9e-22
121 4.9e-22
121 6.9e-22
114 7.9e-22
114 4.6e-22
114 7.9e-22
108 8.75e-22
108 6.5e-22
108 8.75e-22
102 9.2e-22
102 5.6e-22
102 9.2e-22
};
% short excursions on the high-h side of the band
\addplot[cBlue, line width=0.5pt, forget plot] table[x=h, y=f] {
f h
986 2.13e-21
986 2.83e-21
986 2.13e-21
933 1.85e-21
933 2.83e-21
933 1.85e-21
883 1.57e-21
883 2.2e-21
883 1.57e-21
836 1.36e-21
836 2.25e-21
836 1.36e-21
791 1.18e-21
791 1.6e-21
791 1.18e-21
748 1.04e-21
748 1.55e-21
748 1.04e-21
708 9.6e-22
708 1.52e-21
708 9.6e-22
670 8.75e-22
670 1.2e-21
670 8.75e-22
634 8.0e-22
634 1.14e-21
634 8.0e-22
600 7.33e-22
600 1.25e-21
600 7.33e-22
568 6.7e-22
568 9.1e-22
568 6.7e-22
537 6.24e-22
537 9.2e-22
537 6.24e-22
508 5.7e-22
508 9.1e-22
508 5.7e-22
481 5.23e-22
481 7.2e-22
481 5.23e-22
455 4.78e-22
455 6.8e-22
455 4.78e-22
431 4.53e-22
431 7.73e-22
431 4.53e-22
407 4.38e-22
407 5.92e-22
407 4.38e-22
385 4.2e-22
385 6.35e-22
385 4.2e-22
365 4.15e-22
365 6.59e-22
365 4.15e-22
345 4.07e-22
345 6.59e-22
345 4.07e-22
327 4.07e-22
327 5.41e-22
327 4.07e-22
309 4.07e-22
309 6.35e-22
309 4.07e-22
292 4.07e-22
292 5.7e-22
292 4.07e-22
277 4.07e-22
277 6.7e-22
277 4.07e-22
262 4.2e-22
262 5.7e-22
262 4.2e-22
248 4.38e-22
248 6.47e-22
248 4.38e-22
234 4.45e-22
234 7.07e-22
234 4.45e-22
222 4.45e-22
222 6.0e-22
222 4.45e-22
210 4.6e-22
210 6.8e-22
210 4.6e-22
199 4.78e-22
199 8.15e-22
199 4.78e-22
188 5.04e-22
188 6.8e-22
188 5.04e-22
178 5.3e-22
178 7.73e-22
178 5.3e-22
168 5.81e-22
168 8.45e-22
168 5.81e-22
159 6.47e-22
159 1.04e-21
159 6.47e-22
151 7.07e-22
151 9.6e-22
151 7.07e-22
143 7.73e-22
143 1.23e-21
143 7.73e-22
135 8.3e-22
135 1.16e-21
135 8.3e-22
128 9.1e-22
128 1.3e-21
128 9.1e-22
121 9.9e-22
121 1.69e-21
121 9.9e-22
114 1.04e-21
114 1.41e-21
114 1.04e-21
108 1.1e-21
108 1.57e-21
108 1.1e-21
102 1.44e-21
102 2.13e-21
102 1.44e-21
};
% line features of the same run
\addplot[cBlue, line width=0.5pt] table[x=h, y=f] {
f h
7413 8.8e-21
7112 9.0e-21
7112 2.5e-19
7112 9.0e-21
6607 9.5e-21
6607 1.82e-19
6607 9.5e-21
6000 1.05e-20
5000 1.8e-20
4500 1.64e-20
3720 1.2e-20
3720 8.9e-20
3720 1.2e-20
3500 7.4e-21
3000 4.9e-21
2500 3.8e-21
2000 2.9e-21
1500 2.3e-21
1135 1.8e-21
1135 5.0e-21
1135 1.8e-21
1018 1.6e-21
1018 4.2e-21
1018 1.6e-21
800 8.75e-22
787 8.5e-22
787 4.3e-21
787 8.5e-22
660 6.0e-22
660 3.0e-21
660 6.0e-22
600 4.95e-22
541 4.6e-22
541 6.5e-21
541 4.6e-22
456 3.9e-22
456 2.2e-21
456 3.9e-22
418 3.6e-22
418 1.16e-20
418 3.6e-22
358 3.1e-22
358 2.33e-21
358 3.1e-22
344 3.0e-22
344 7.5e-21
344 3.0e-22
299 2.9e-22
299 1.11e-20
299 2.9e-22
250 2.9e-22
236 3.0e-22
236 7.9e-22
236 3.0e-22
200 3.3e-22
188 3.6e-22
188 2.5e-21
188 3.6e-22
180 3.8e-22
180 1.16e-20
180 3.8e-22
150 4.95e-22
141 5.5e-22
141 7.9e-21
141 5.5e-22
120 7.3e-22
120 3.0e-21
120 7.3e-22
100.9 2.95e-21
96.1 1.57e-21
93.8 2.73e-21
93.3 2.5e-21
93.3 3.35e-20
93.3 2.5e-21
90.0 1.14e-21
84.3 2.33e-21
82.2 4.06e-21
79.6 1.69e-20
77.1 4.06e-21
75.2 1.83e-20
74.0 8.97e-21
72.8 2.33e-20
70.5 4.74e-20
68.8 1.14e-20
65.9 4.4e-20
64.9 8.97e-21
63.3 1.83e-20
60.8 3.46e-20
59.8 1.33e-19
58.4 5.14e-20
57.8 1.23e-19
55.1 2.72e-19
52.9 1.23e-18
52.5 7.06e-19
49.9 2.72e-19
47.9 1.33e-19
46.7 6.03e-19
46.0 2.15e-19
43.8 4.74e-19
41.7 8.95e-19
39.7 1.83e-18
37.8 2.72e-18
36.6 1.83e-18
35.4 6.53e-19
34.8 2.14e-18
33.7 7.06e-19
32.7 9.7e-19
30.6 4.74e-19
30.1 9.7e-19
29.1 2.32e-18
28.6 1.33e-18
28.2 2.52e-18
25.6 4.39e-18
24.9 1.14e-17
24.3 1.83e-17
23.9 2.72e-17
22.4 5.56e-17
21.5 9.7e-17
21.0 1.3e-16
};
\addlegendentry{\sample{cBlue}{1.2pt}06 January 2003}

% ---------------- design sensitivity ----------------
\addplot[cSRD, line width=2.2pt, smooth, tension=0.4, line join=round] table[x=h, y=f] {
f h
14.0 1.35e-16
15 5.1e-17
16 2.12e-17
18 4.28e-18
20 1.02e-18
22 2.79e-19
24 8.5e-20
26 2.87e-20
28 1.05e-20
30 4.1e-21
32 1.71e-21
33 1.13e-21
34 7.6e-22
34.7 5.9e-22
35.4 4.8e-22
36.1 4.05e-22
36.9 3.5e-22
37.8 3.05e-22
38.8 2.72e-22
40 2.47e-22
42 2.22e-22
44 2.02e-22
47 1.78e-22
51.4 1.45e-22
56 1.22e-22
62 1.0e-22
68 8.3e-23
74.5 6.9e-23
82 5.8e-23
91.6 4.8e-23
101 4.1e-23
112 3.57e-23
124 3.1e-23
140 2.78e-23
162 2.64e-23
194 2.78e-23
220 3.0e-23
247 3.32e-23
290 3.75e-23
342 4.19e-23
420 4.9e-23
558 6.3e-23
700 7.9e-23
869 1.0e-22
1000 1.18e-22
1263 1.52e-22
1600 1.95e-22
2178 2.67e-22
3000 3.65e-22
4046 4.87e-22
5500 6.8e-22
7000 9.0e-22
10000 1.29e-21
};
\addlegendentry{\sample[1.8pt]{cSRD}{0.6pt}LIGO I SRD Goal, 4km}
\end{axis}

% run labels above the frame
\node[rotate=90, text=annGreen, font=\annfont\fontsize{16}{18}\selectfont] at (103pt,393.75pt) {S1};
\node[rotate=90, text=annBlue, font=\annfont\fontsize{16}{18}\selectfont] at (147.1pt,400.75pt) {6 Jan};
\draw[annGreen, line width=1.7pt, -{Triangle[length=6pt,width=5.5pt]}] (102.5pt,380.25pt) -- (107pt,356.5pt);
\draw[annBlue, line width=1.7pt, -{Triangle[length=6pt,width=5.5pt]}] (143pt,376.25pt) -- (134.5pt,356.5pt);

\pgfresetboundingbox
\path[use as bounding box] (-6pt,-43pt) rectangle (283.5pt,422pt);
\end{tikzpicture}
\end{document}
